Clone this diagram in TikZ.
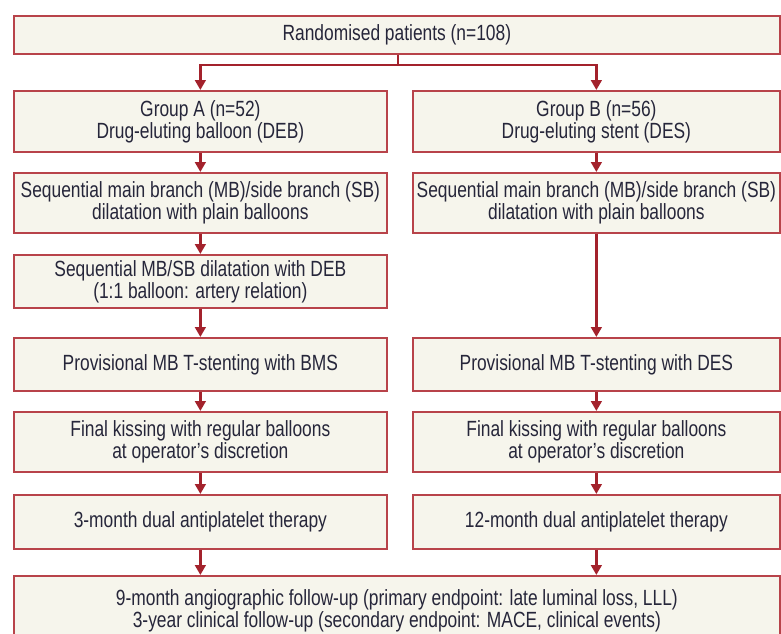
\documentclass[tikz,border=0pt]{standalone}
\usepackage{fontspec}
\setmainfont[FakeStretch=0.79]{Liberation Sans}
\usetikzlibrary{arrows.meta}
\definecolor{boxred}{HTML}{B8434A}
\definecolor{arrred}{HTML}{A3222C}
\definecolor{boxfill}{HTML}{F6F5EC}
\definecolor{txt}{HTML}{26263A}
\begin{document}
\begin{tikzpicture}[x=0.75pt,y=-0.75pt,
 box/.style={draw=boxred,line width=1.3pt,fill=boxfill,anchor=north west,inner sep=0pt,align=center,
  text=txt,font=\fontsize{16.5}{16.5}\selectfont},
 arr/.style={draw=arrred,line width=2pt,-{Triangle[length=7.5pt,width=8pt]}}]
 \useasboundingbox (0,0) rectangle (781,633);
 % top
 \node[box,minimum width=574.5pt,minimum height=28.5pt] (rand) at (13,15) {Randomised patients (n=108)};
 % group A
 \node[box,minimum width=279.75pt,minimum height=45.75pt] (a1) at (13,90) {Group A (n=52)\\Drug-eluting balloon (DEB)};
 \node[box,minimum width=279.75pt,minimum height=45pt] (a2) at (13,172) {Sequential main branch (MB)/side branch (SB)\\dilatation with plain balloons};
 \node[box,minimum width=279.75pt,minimum height=39.75pt] (a3) at (13,254) {Sequential MB/SB dilatation with DEB\\(1:1 balloon: artery relation)};
 \node[box,minimum width=279.75pt,minimum height=39.75pt] (a4) at (13,337) {Provisional MB T-stenting with BMS};
 \node[box,minimum width=279.75pt,minimum height=45pt] (a5) at (13,411) {Final kissing with regular balloons\\at operator's discretion};
 \node[box,minimum width=279.75pt,minimum height=40.5pt] (a6) at (13,494) {3-month dual antiplatelet therapy};
 % group B
 \node[box,minimum width=275.25pt,minimum height=45.75pt] (b1) at (412,90) {Group B (n=56)\\Drug-eluting stent (DES)};
 \node[box,minimum width=275.25pt,minimum height=45pt] (b2) at (412,172) {Sequential main branch (MB)/side branch (SB)\\dilatation with plain balloons};
 \node[box,minimum width=275.25pt,minimum height=39.75pt] (b4) at (412,337) {Provisional MB T-stenting with DES};
 \node[box,minimum width=275.25pt,minimum height=45pt] (b5) at (412,411) {Final kissing with regular balloons\\at operator's discretion};
 \node[box,minimum width=275.25pt,minimum height=40.5pt] (b6) at (412,494) {12-month dual antiplatelet therapy};
 % follow-up
 \node[box,minimum width=574.5pt,minimum height=52pt] (fu) at (13,575) {9-month angiographic follow-up (primary endpoint: late luminal loss, LLL)\\3-year clinical follow-up (secondary endpoint: MACE, clinical events)};
 % split
 \coordinate (split) at (398,65);
 \draw[draw=arrred,line width=2pt] (rand.south-|split) -- (split);
 \draw[arr] (split) -| (a1.north);
 \draw[arr] (split) -| (b1.north);
 \draw[arr] (a1) -- (a2);
 \draw[arr] (a2) -- (a3);
 \draw[arr] (a3) -- (a4);
 \draw[arr] (a4) -- (a5);
 \draw[arr] (a5) -- (a6);
 \draw[arr] (b1) -- (b2);
 \draw[arr] (b2) -- (b4);
 \draw[arr] (b4) -- (b5);
 \draw[arr] (b5) -- (b6);
 \draw[arr] (a6) -- (a6.south|-fu.north);
 \draw[arr] (b6) -- (b6.south|-fu.north);
\end{tikzpicture}
\end{document}
